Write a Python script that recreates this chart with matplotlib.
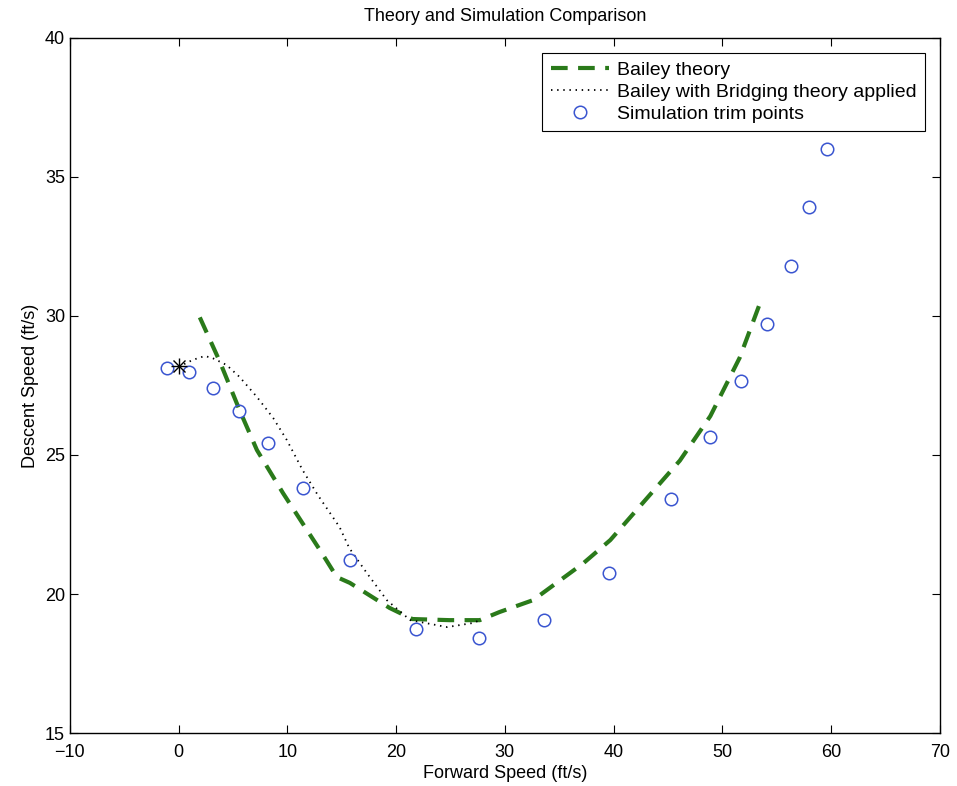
import matplotlib.pyplot as plt

plt.rcParams['font.family'] = ['Liberation Sans', 'DejaVu Sans']

# Bailey theory (green dashed)
bailey_x = [1.95, 3.8, 5.6, 7.2, 9.6, 13.0, 14.55, 15.75, 19.4, 21.5, 24.9, 27.7,
            29.5, 32.6, 37.2, 39.7, 46.1, 48.9, 51.6, 53.6]
bailey_y = [29.95, 28.35, 26.62, 25.18, 23.63, 21.58, 20.61, 20.4, 19.5, 19.1, 19.06, 19.06,
            19.35, 19.78, 21.1, 21.94, 24.8, 26.4, 28.5, 30.6]

# Bailey with bridging theory applied (black dotted)
bridge_x = [0.0, 1.3, 2.4, 3.1, 4.4, 5.6, 7.2, 8.7, 9.95, 11.4, 12.8, 14.8, 15.7,
            17.3, 19.15, 21.3, 24.7, 27.1, 27.7]
bridge_y = [28.17, 28.42, 28.56, 28.49, 28.24, 27.81, 27.09, 26.33, 25.54, 24.46, 23.56,
            22.41, 21.65, 20.76, 19.78, 19.06, 18.81, 18.96, 19.06]

# Simulation trim points (blue circles)
sim_x = [-1.1, 1.0, 3.2, 5.6, 8.2, 11.4, 15.75, 21.8, 27.6, 33.6, 39.6, 45.3,
         48.9, 51.7, 54.1, 56.3, 58.0, 59.6]
sim_y = [28.13, 27.99, 27.41, 26.58, 25.43, 23.8, 21.22, 18.74, 18.42, 19.06, 20.76,
         23.42, 25.65, 27.66, 29.71, 31.8, 33.92, 36.0]

# starting point (asterisk)
star_x = [0.0]
star_y = [28.2]

fig = plt.figure(figsize=(9.57, 7.86), dpi=100)
ax = fig.add_axes([0.073, 0.0674, 0.909, 0.8843])

ax.plot(bailey_x, bailey_y, '--', color='#2a7a1a', linewidth=3, dashes=(4, 2.5),
        label='Bailey theory')
ax.plot(bridge_x, bridge_y, color='black', linewidth=1.3, dashes=(0.8, 2.6),
        label='Bailey with Bridging theory applied')
ax.plot(sim_x, sim_y, 'o', markerfacecolor='none', markeredgecolor='#3a55d0',
        markersize=9, markeredgewidth=1.1, label='Simulation trim points')
# MATLAB-style asterisk = plus + cross
ax.plot(star_x, star_y, '+', color='black', markersize=11, markeredgewidth=1)
ax.plot(star_x, star_y, 'x', color='black', markersize=8, markeredgewidth=1)

ax.set_xlim(-10, 70)
ax.set_ylim(15, 40)
ax.set_xticks(range(-10, 71, 10))
ax.set_yticks(range(15, 41, 5))
ax.tick_params(direction='in', top=True, right=True, labelsize=13, length=6)
ax.tick_params(axis='x', pad=8)
for s in ax.spines.values():
    s.set_linewidth(1)

ax.set_title('Theory and Simulation Comparison', fontsize=13, pad=12)
ax.set_xlabel('Forward Speed (ft/s)', fontsize=13, labelpad=3)
ax.set_ylabel('Descent Speed (ft/s)', fontsize=13, labelpad=4)

leg = ax.legend(loc='upper right', fontsize=14, fancybox=False, edgecolor='black',
                framealpha=1, borderaxespad=0.75, handlelength=3.0, labelspacing=0.22,
                borderpad=0.45, handletextpad=0.4)
leg.get_frame().set_linewidth(0.8)

fig.savefig('out.png', dpi=100)
